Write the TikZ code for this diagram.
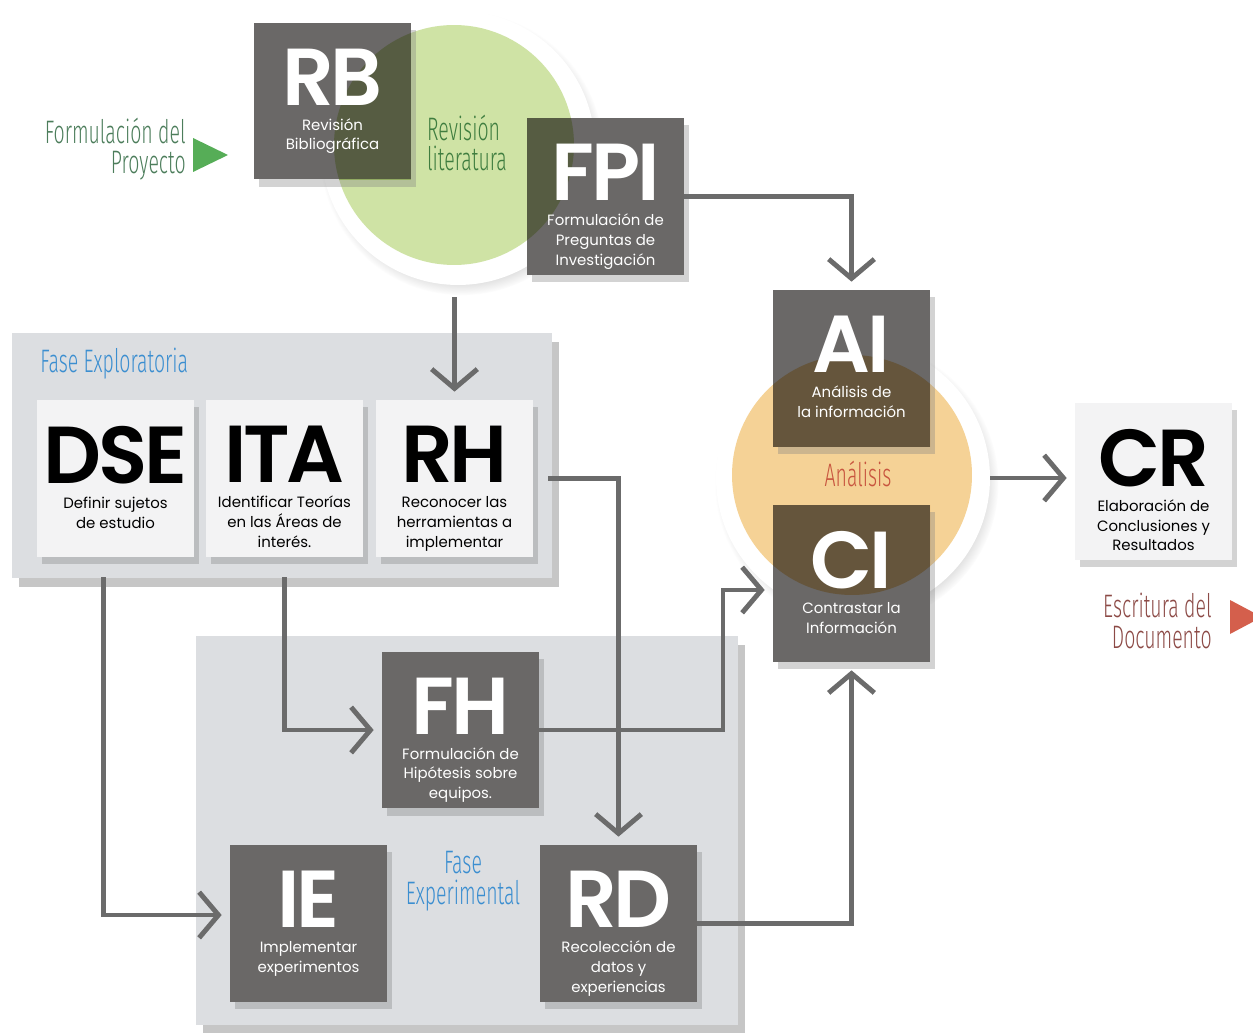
\documentclass[tikz,border=0pt]{standalone}
\usepackage{fontspec}
\setmainfont{Poppins}
\newfontfamily\tagfont[LetterSpace=-4]{Poppins SemiBold}
\newfontfamily\condfont[FakeStretch=0.6]{Fira Sans Light}
\usetikzlibrary{arrows.meta,shadows}

\definecolor{boxgray}{HTML}{6A6867}
\definecolor{boxwhite}{HTML}{F3F3F4}
\definecolor{panelgray}{HTML}{DCDEE1}
\definecolor{litgreen}{HTML}{CFE3A5}
\definecolor{anaorange}{HTML}{F5D296}
\definecolor{linegray}{HTML}{6B6B6B}
\definecolor{projgreen}{HTML}{4C7D5B}
\definecolor{trigreen}{HTML}{56AD57}
\definecolor{revgreen}{HTML}{3F7D3F}
\definecolor{phaseblue}{HTML}{3B8ED0}
\definecolor{anared}{HTML}{C8553F}
\definecolor{docred}{HTML}{8C4A46}
\definecolor{trired}{HTML}{D45F4C}

% sigla grande + texto pequeno, dentro de una caja fija
\newcommand\tagbox[2]{\parbox[c][3.14cm][t]{3.1cm}{\centering
  \vspace*{15pt}{\tagfont\fontsize{46}{46}\selectfont #1\par}\vspace{3pt}
  {\fontsize{8.5}{11.2}\selectfont #2\par}}}

\tikzset{
  boxbase/.style={minimum width=3.14cm,minimum height=3.14cm,inner sep=0pt,
    drop shadow={opacity=0.35,shadow xshift=3pt,shadow yshift=-4pt}},
  darkbox/.style={boxbase,fill=boxgray,text=white},
  litebox/.style={boxbase,fill=boxwhite,text=black},
  ongreen/.style={path picture={\fill[litgreen,blend mode=multiply] (revcirc.center) circle (2.4cm);}},
  onorange/.style={path picture={\fill[anaorange,blend mode=multiply] (anacirc.center) circle (2.4cm);}},
  halo/.style={circle,fill=white,minimum size=5.48cm,inner sep=0pt,
    circular drop shadow={opacity=0.4,shadow scale=1.035,shadow xshift=2pt,shadow yshift=-3pt}},
  blob/.style={circle,minimum size=4.8cm,inner sep=0pt},
  panel/.style={fill=panelgray,drop shadow={opacity=0.45,shadow xshift=4pt,shadow yshift=-5pt}},
  condlabel/.style={font=\condfont\fontsize{18.5}{17.5}\selectfont,inner sep=0pt},
  flow/.style={draw=linegray,line width=2.8pt,
    -{Straight Barb[length=11pt,width=26pt]},shorten >=0.16cm}
}

\begin{document}
\begin{tikzpicture}[x=0.02cm,y=-0.02cm]
\useasboundingbox (0,0) rectangle (1253,1033);

% fases
\fill[panel] (12,333) rectangle (552,578);
\fill[panel] (196,636) rectangle (738,1025);

% circulos
\node[halo] (revhalo) at (458,148) {};
\node[blob,fill=litgreen] (revcirc) at (454,145) {};
\node[halo] (anahalo) at (853,478) {};
\node[blob,fill=anaorange] (anacirc) at (852,475) {};

% cajas
\node[darkbox,ongreen] (RB) at (332.5,101) {\tagbox{RB}{Revisión\\Bibliográfica}};
\node[darkbox,ongreen] (FPI) at (605.5,196.5) {\tagbox{FPI}{Formulación de\\Preguntas de\\Investigación}};
\node[darkbox,onorange] (AI) at (851.5,368.5) {\tagbox{AI}{Análisis de\\la información}};
\node[darkbox,onorange] (CI) at (851.5,583.5) {\tagbox{CI}{Contrastar la\\Información}};
\node[litebox] (CR) at (1153.5,481.5) {\tagbox{CR}{Elaboración de\\Conclusiones y\\Resultados}};
\node[litebox] (DSE) at (115.5,478.5) {\tagbox{DSE}{Definir sujetos\\de estudio}};
\node[litebox] (ITA) at (284.5,478.5) {\tagbox{ITA}{Identificar Teorías\\en las Áreas de\\interés.}};
\node[litebox] (RH) at (454.5,478.5) {\tagbox{RH}{Reconocer las\\herramientas a\\implementar}};
\node[darkbox] (FH) at (460.5,730) {\tagbox{FH}{Formulación de\\Hipótesis sobre\\equipos.}};
\node[darkbox] (IE) at (308.5,923.5) {\tagbox{IE}{Implementar\\experimentos}};
\node[darkbox] (RD) at (618.5,923.5) {\tagbox{RD}{Recolección de\\datos y\\experiencias}};

% textos
\node[condlabel,text=projgreen,align=right,anchor=east] (proj) at (186,149) {Formulación del\\Proyecto};
\fill[trigreen] (193,138) -- (228,155) -- (193,172) -- cycle;
\node[condlabel,text=revgreen,align=left] (revlit) at (467,143) {Revisión\\literatura};
\node[condlabel,text=phaseblue,anchor=west] (fexp) at (40,364) {Fase Exploratoria};
\node[condlabel,text=phaseblue,align=center] (fexpe) at (463,881) {Fase\\Experimental};
\node[condlabel,text=anared] (ana) at (858,474) {Análisis};
\node[condlabel,text=docred,align=right,anchor=east] (doc) at (1212,621) {Escritura del\\Documento};
\fill[trired] (1230,600) -- (1262,617) -- (1230,634) -- cycle;

% conexiones
\coordinate (fhbend) at (723,730);
\draw[flow] (FPI.east) -| (AI.north);
\draw[flow,shorten <=0.24cm] (revhalo.south -| RH.north) -- (RH.north);
\draw[flow,shorten <=0.3cm] (RH.east) -| (RD.north);
\draw[flow,shorten <=0.4cm] ([xshift=-0.24cm]DSE.south) |- ([yshift=0.17cm]IE.west);
\draw[flow,shorten <=0.4cm] (ITA.south) |- (FH.west);
\draw[flow] (FH.east) -- (fhbend) |- ([yshift=-0.13cm]CI.west);
\draw[flow] (RD.east) -| (CI.south);
\draw[flow] (anahalo.east) -- (anahalo.east -| CR.west);
\end{tikzpicture}
\end{document}
